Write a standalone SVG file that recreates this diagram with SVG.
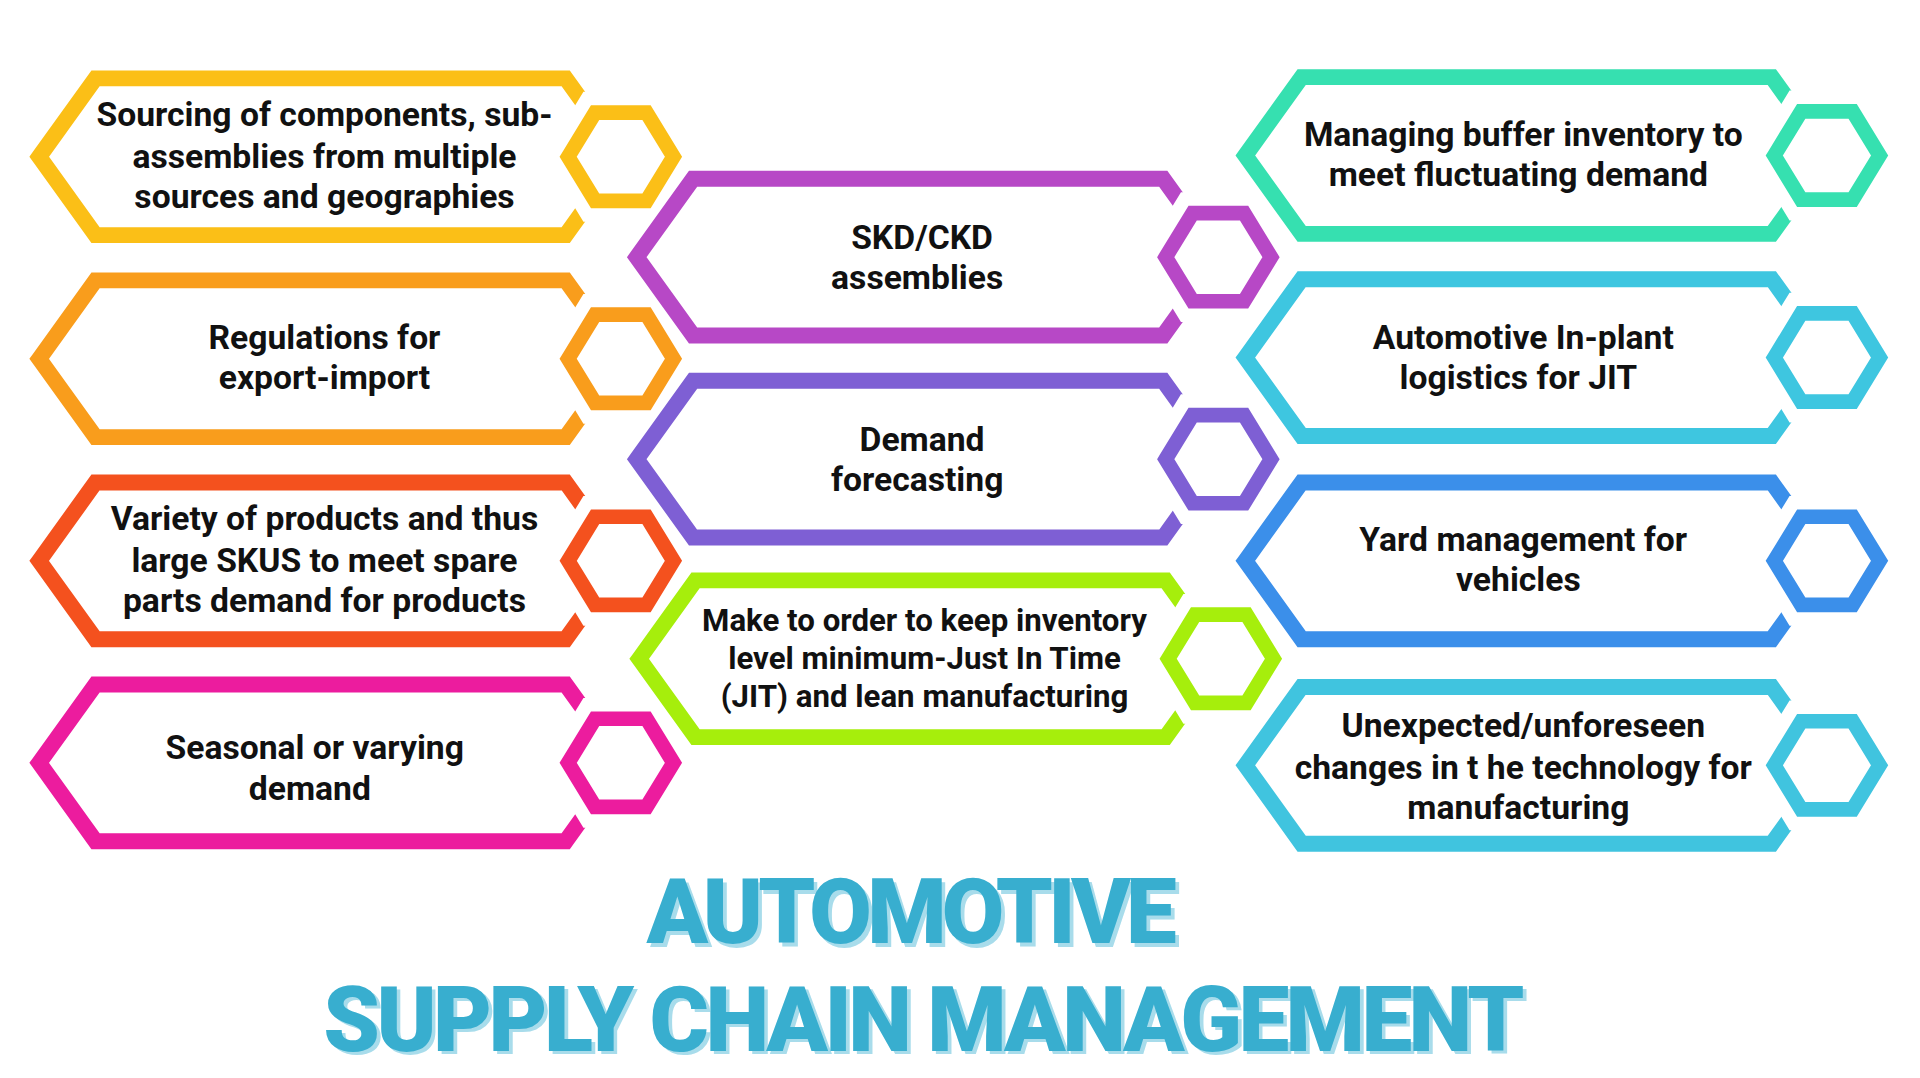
<svg xmlns="http://www.w3.org/2000/svg" width="1920" height="1078" viewBox="0 0 1920 1078">
<style>
.b{fill:#fff;stroke-width:13;stroke-linejoin:miter}
.g{fill:#fff;stroke:#fff;stroke-width:34}
.s{fill:#fff;stroke-width:12}
.t{font-family:Roboto,"Liberation Sans",sans-serif;font-weight:700;font-size:27.5px;fill:#111;stroke:none;text-anchor:middle}
.h{font-family:Roboto,"Liberation Sans",sans-serif;font-weight:900;font-size:74px;text-anchor:middle;letter-spacing:-3px}
</style>
<defs>
<path id="big" d="M-233,0 L-187,-64 L197,-64 L243,0 L197,64 L-187,64 Z"/>
<path id="sm" d="M-43,0 L-21,-36 L21,-36 L43,0 L21,36 L-21,36 Z"/>
</defs>
<rect width="1920" height="1078" fill="#fff"/>
<g transform="scale(1.22449)">
<g id="n1" transform="translate(265,128)" stroke="#FBBF17"><use href="#big" class="b"/><use href="#sm" x="242" class="g"/><use href="#sm" x="242" class="s"/>
<text class="t" y="-25">Sourcing of components, sub-</text><text class="t" y="9">assemblies from multiple</text><text class="t" y="42">sources and geographies</text></g>
<g id="n2" transform="translate(265,293)" stroke="#F99D1C"><use href="#big" class="b"/><use href="#sm" x="242" class="g"/><use href="#sm" x="242" class="s"/>
<text class="t" y="-8">Regulations for</text><text class="t" y="25">export-import</text></g>
<g id="n3" transform="translate(265,458)" stroke="#F4511E"><use href="#big" class="b"/><use href="#sm" x="242" class="g"/><use href="#sm" x="242" class="s"/>
<text class="t" y="-25">Variety of products and thus</text><text class="t" y="9">large SKUS to meet spare</text><text class="t" y="42">parts demand for products</text></g>
<g id="n4" transform="translate(265,623)" stroke="#EC1C9E"><use href="#big" class="b"/><use href="#sm" x="242" class="g"/><use href="#sm" x="242" class="s"/>
<text class="t" y="-3" x="-8">Seasonal or varying</text><text class="t" y="30" x="-12">demand</text></g>
<g id="n5" transform="translate(753,210)" stroke="#B748C6"><use href="#big" class="b"/><use href="#sm" x="242" class="g"/><use href="#sm" x="242" class="s"/>
<text class="t" y="-7">SKD/CKD</text><text class="t" y="26" x="-4">assemblies</text></g>
<g id="n6" transform="translate(753,375)" stroke="#7E5FD4"><use href="#big" class="b"/><use href="#sm" x="242" class="g"/><use href="#sm" x="242" class="s"/>
<text class="t" y="-7">Demand</text><text class="t" y="26" x="-4">forecasting</text></g>
<g id="n7" transform="translate(755,538)" stroke="#A6EE0C"><use href="#big" class="b"/><use href="#sm" x="242" class="g"/><use href="#sm" x="242" class="s"/>
<text class="t" y="-23" style="font-size:25.5px">Make to order to keep inventory</text><text class="t" y="8" style="font-size:25.5px">level minimum-Just In Time</text><text class="t" y="39" style="font-size:25.5px">(JIT) and lean manufacturing</text></g>
<g id="n8" transform="translate(1250,127)" stroke="#36E0B0"><use href="#big" class="b"/><use href="#sm" x="242" class="g"/><use href="#sm" x="242" class="s"/>
<text class="t" y="-8" x="-6">Managing buffer inventory to</text><text class="t" y="25" x="-10">meet fluctuating demand</text></g>
<g id="n9" transform="translate(1250,292)" stroke="#3EC6E0"><use href="#big" class="b"/><use href="#sm" x="242" class="g"/><use href="#sm" x="242" class="s"/>
<text class="t" y="-7" x="-6">Automotive In-plant</text><text class="t" y="26" x="-10">logistics for JIT</text></g>
<g id="n10" transform="translate(1250,458)" stroke="#3B8FEA"><use href="#big" class="b"/><use href="#sm" x="242" class="g"/><use href="#sm" x="242" class="s"/>
<text class="t" y="-8" x="-6">Yard management for</text><text class="t" y="25" x="-10">vehicles</text></g>
<g id="n11" transform="translate(1250,625)" stroke="#40C4DF"><use href="#big" class="b"/><use href="#sm" x="242" class="g"/><use href="#sm" x="242" class="s"/>
<text class="t" y="-23" x="-6">Unexpected/unforeseen</text><text class="t" y="11" x="-6">changes in t he technology for</text><text class="t" y="44" x="-10">manufacturing</text></g>
<g id="connectors"/>
<g id="title">
<text class="h" x="746" y="773" fill="#A8DCEB" textLength="430">AUTOMOTIVE</text>
<text class="h" x="743" y="770" fill="#38AECF" textLength="430">AUTOMOTIVE</text>
<text class="h" x="756" y="861" fill="#A8DCEB" textLength="978">SUPPLY CHAIN MANAGEMENT</text>
<text class="h" x="753" y="858" fill="#38AECF" textLength="978">SUPPLY CHAIN MANAGEMENT</text>
</g>
</g>
</svg>
